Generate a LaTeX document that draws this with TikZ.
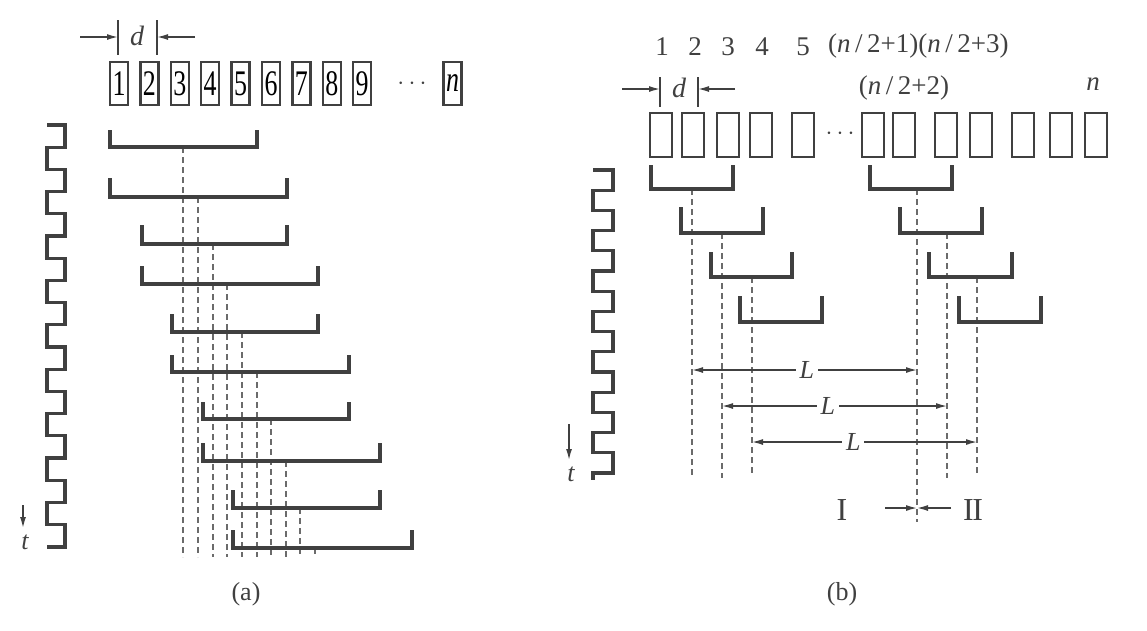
\documentclass[tikz,border=0pt]{standalone}
\usepackage{fontspec}
\setmainfont{Liberation Serif}
\usetikzlibrary{arrows.meta}
\definecolor{ink}{gray}{0.25}
\definecolor{dshc}{gray}{0.42}
\newcommand\boxdigit[1]{\scalebox{0.72}[1]{\fontsize{36pt}{38pt}\selectfont #1}}
\begin{document}
\begin{tikzpicture}[x=1pt,y=-1pt,
  abox/.style={draw=ink, line width=2.4pt, minimum width=18pt, minimum height=43pt, inner sep=0pt},
  bbox/.style={draw=ink, line width=2.6pt, minimum width=22pt, minimum height=44pt, inner sep=0pt},
  brk/.style={draw=ink, line width=3.2pt, line join=miter},
  dshl/.style={draw=dshc, line width=1.6pt, dash pattern=on 6pt off 4pt},
  clk/.style={draw=ink, line width=3.2pt, line join=miter},
  dimarr/.style={draw=ink, line width=1.4pt, -{Latex[length=11pt,width=6pt]}},
  twoarr/.style={draw=ink, line width=1.4pt, {Latex[length=11pt,width=6pt]}-{Latex[length=11pt,width=6pt]}},
  tickl/.style={draw=ink, line width=1.8pt},
  lab/.style={font=\fontsize{27pt}{30pt}\selectfont, inner sep=0pt, text=ink},
  llab/.style={font=\fontsize{26pt}{28pt}\selectfont\itshape, fill=white, inner sep=4pt, text=ink},
]
\useasboundingbox (0,0) rectangle (1147,630);

% ================= (a) =================
% d dimension
\coordinate (ta1) at (118,20); \coordinate (tb1) at (118,55);
\coordinate (ta2) at (157,20); \coordinate (tb2) at (157,55);
\draw[tickl] (ta1) -- (tb1);
\draw[tickl] (ta2) -- (tb2);
\coordinate (da1) at (80,37); \coordinate (da2) at (118,37);
\coordinate (db1) at (195,37); \coordinate (db2) at (157,37);
\draw[dimarr] (da1) -- (da2);
\draw[dimarr] (db1) -- (db2);
\node[lab, font=\fontsize{28pt}{30pt}\selectfont\itshape] (dA) at (137,36) {d};

% boxes
\foreach \i in {1,...,9} {
  \node[abox] (a\i) at ({119+30.4*(\i-1)},83.5) {\boxdigit{\i}};
}
\node[lab] (adots) at (412,84) {$\cdots$};
\node[abox] (an) at (452.5,83.5) {\boxdigit{\itshape n}};

% dashed lines (a)
\foreach \n/\c/\b in {1/183/147, 2/198/197, 3/213/244, 4/227/284, 5/242/332,
  6/257/372, 7/271/419, 8/286/461, 9/300/508, 10/315/548} {
  \coordinate (ba\n) at (\c,\b);
  \coordinate (ea\n) at (\c,557);
  \draw[dshl] (ba\n) -- (ea\n);
}
\foreach \n/\l/\r/\t/\b in {1/110/257/130/147, 2/110/287/178/197, 3/142/287/225/244,
  4/142/318/266/284, 5/172/318/314/332, 6/172/349/355/372, 7/203/349/402/419,
  8/203/380/443/461, 9/233/380/490/508, 10/233/412/530/548} {
  \draw[brk] (\l,\t) -- (\l,\b) -- (\r,\b) -- (\r,\t);
}

% clock (a)
\draw[clk] (47,125) -- (65,125)
  foreach \j in {0,...,8} {
    -- (65,{125+22.2*(2*\j+1)}) -- (47,{125+22.2*(2*\j+1)})
    -- (47,{125+22.2*(2*\j+2)}) -- (65,{125+22.2*(2*\j+2)})
  } -- (65,547) -- (47,547);
\coordinate (tA1) at (23,505); \coordinate (tA2) at (23,528);
\draw[dimarr] (tA1) -- (tA2);
\node[lab, font=\fontsize{26pt}{28pt}\selectfont\itshape] (tA) at (25,542) {t};

\node[lab, font=\fontsize{26pt}{28pt}\selectfont] (capa) at (246,594) {(a)};

% ================= (b) =================
\node[lab] (n1) at (662,47) {1};
\node[lab] (n2) at (695,47) {2};
\node[lab] (n3) at (728,47) {3};
\node[lab] (n4) at (762,47) {4};
\node[lab] (n5) at (803,47) {5};
\node[lab, anchor=west] (n6) at (828,46) {(\textit{n}\,/\,2+1)(\textit{n}\,/\,2+3)};
\node[lab] (n7) at (904,88) {(\textit{n}\,/\,2+2)};
\node[lab, font=\fontsize{27pt}{30pt}\selectfont\itshape] (nn) at (1093,84) {n};

% d dimension (b)
\coordinate (tc1) at (660,77); \coordinate (tc2) at (660,107);
\coordinate (td1) at (698,77); \coordinate (td2) at (698,107);
\draw[tickl] (tc1) -- (tc2);
\draw[tickl] (td1) -- (td2);
\coordinate (dc1) at (622,89); \coordinate (dc2) at (660,89);
\coordinate (dd1) at (735,89); \coordinate (dd2) at (698,89);
\draw[dimarr] (dc1) -- (dc2);
\draw[dimarr] (dd1) -- (dd2);
\node[lab, font=\fontsize{28pt}{30pt}\selectfont\itshape] (dB) at (679,88) {d};

% boxes (b)
\foreach \n/\l in {1/650,2/682,3/717,4/750,5/792,6/862,7/893,8/935,9/970,10/1012,11/1050,12/1085} {
  \node[bbox] (b\n) at ({\l+11},135) {};
}
\node[lab] (bdots) at (840,134) {$\cdots$};

% dashed lines (b)
\foreach \n/\c/\b/\e in {1/692/189/478, 2/722/233/478, 3/752/277/473, 4/917/189/522, 5/947/233/478, 6/977/277/473} {
  \coordinate (bb\n) at (\c,\b);
  \coordinate (eb\n) at (\c,\e);
  \draw[dshl] (bb\n) -- (eb\n);
}
% brackets (b)
\foreach \l/\r/\t/\b in {651/733/165/189, 681/763/207/233, 711/792/252/277, 740/822/296/322,
  870/952/165/189, 900/982/207/233, 929/1012/252/277, 959/1041/296/322} {
  \draw[brk] (\l,\t) -- (\l,\b) -- (\r,\b) -- (\r,\t);
}

% L arrows
\coordinate (L1a) at (692,370); \coordinate (L1b) at (917,370);
\coordinate (L2a) at (722,406); \coordinate (L2b) at (947,406);
\coordinate (L3a) at (752,442); \coordinate (L3b) at (977,442);
\draw[twoarr] (L1a) -- node[llab, pos=0.51] (Lt1) {L} (L1b);
\draw[twoarr] (L2a) -- node[llab, pos=0.47] (Lt2) {L} (L2b);
\draw[twoarr] (L3a) -- node[llab, pos=0.45] (Lt3) {L} (L3b);

% I / II
\node[lab, font=\fontsize{32pt}{34pt}\selectfont] (r1) at (842,510) {I};
\node[lab, font=\fontsize{32pt}{34pt}\selectfont] (r2) at (973,510) {I\kern-1.5pt I};
\coordinate (ia) at (885,508); \coordinate (ib) at (917,508);
\coordinate (ic) at (951,508);
\draw[dimarr] (ia) -- (ib);
\draw[dimarr] (ic) -- (ib);

% clock (b)
\draw[clk] (593,170) -- (613,170)
  foreach \j in {0,...,6} {
    -- (613,{170+20.2*(2*\j+1)}) -- (593,{170+20.2*(2*\j+1)})
    -- (593,{170+20.2*(2*\j+2)}) -- (613,{170+20.2*(2*\j+2)})
  } -- (613,473) -- (593,473) -- (593,480);
\coordinate (tB1) at (569,424); \coordinate (tB2) at (569,460);
\draw[dimarr] (tB1) -- (tB2);
\node[lab, font=\fontsize{26pt}{28pt}\selectfont\itshape] (tB) at (571,474) {t};

\node[lab, font=\fontsize{26pt}{28pt}\selectfont] (capb) at (842,594) {(b)};
\end{tikzpicture}
\end{document}
